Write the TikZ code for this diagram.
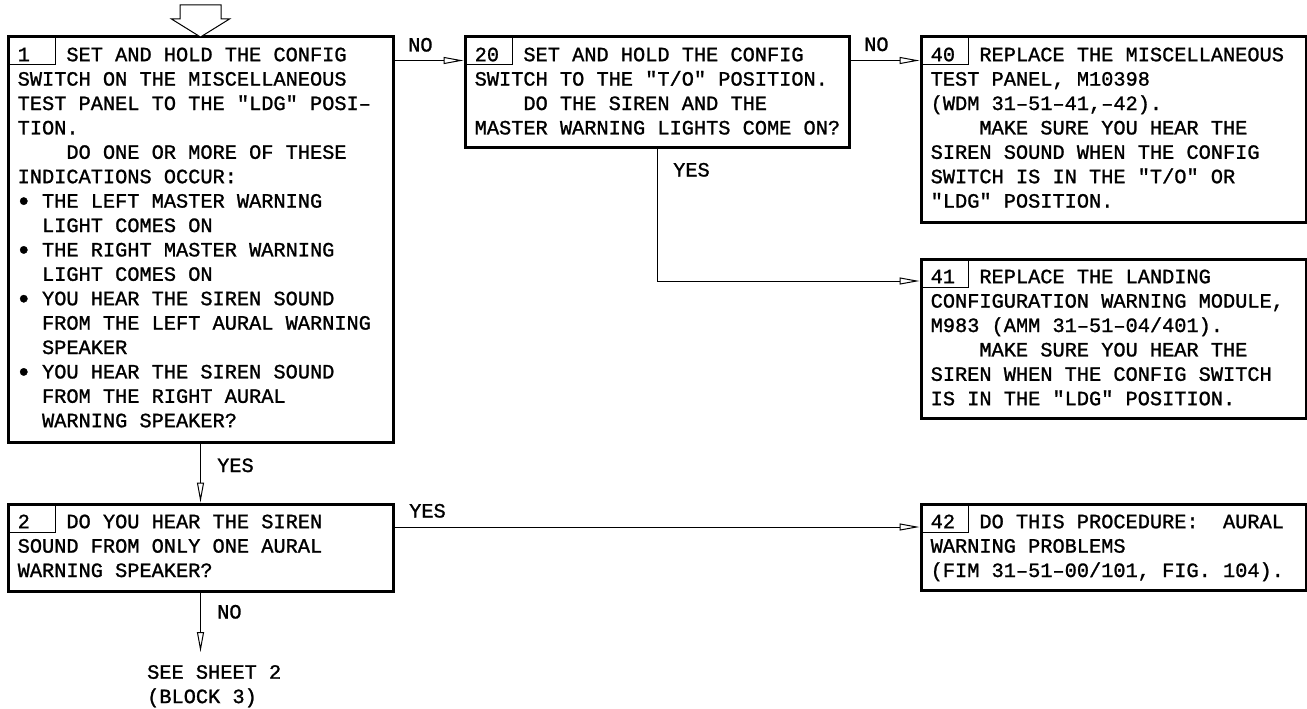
\documentclass[tikz,border=0pt]{standalone}
\usepackage{fontspec}
\usetikzlibrary{arrows.meta}
\newfontfamily\monof[FakeBold=1.2]{Liberation Mono}
\tikzset{
  mytxt/.style={font=\monof\fontsize{20.3pt}{24.4pt}\selectfont\frenchspacing},
  framebox/.style={draw, line width=3pt, rectangle, inner sep=0pt},
  numbox/.style={draw, line width=0.9pt, rectangle, inner sep=0pt, minimum width=48pt, minimum height=29pt, anchor=north west},
  btext/.style={mytxt, align=left, inner sep=0pt, anchor=north west},
  lbl/.style={mytxt, inner sep=0pt, anchor=base west},
  conn/.style={line width=1pt, -{Triangle[open, length=20pt, width=7pt]}}
}
\newcommand{\fl}{\rule{0pt}{20pt}}
\newcommand{\bul}{\makebox[12.18pt][c]{\raisebox{-2.6pt}{\scalebox{1.35}{•}}}}
\begin{document}
\begin{tikzpicture}[x=1pt, y=-1pt]
\useasboundingbox (0,0) rectangle (1307,709);
\fill[white] (0,0) rectangle (1307,709);

% boxes
\node[framebox, minimum width=385pt, minimum height=405pt] (b1) at (200.5,239.5) {};
\node[framebox, minimum width=384pt, minimum height=110pt] (b20) at (657,92) {};
\node[framebox, minimum width=385pt, minimum height=185pt] (b40) at (1113.5,129.5) {};
\node[framebox, minimum width=385pt, minimum height=159pt] (b41) at (1113.5,338.5) {};
\node[framebox, minimum width=385pt, minimum height=87pt] (b2) at (200.5,547.5) {};
\node[framebox, minimum width=385pt, minimum height=86pt] (b42) at (1113.5,547) {};

% number boxes
\node[numbox] (n1) at (b1.north west) {};
\node[numbox] (n20) at (b20.north west) {};
\node[numbox] (n40) at (b40.north west) {};
\node[numbox] (n41) at (b41.north west) {};
\node[numbox] (n2) at (b2.north west) {};
\node[numbox] (n42) at (b42.north west) {};

% texts
\node[btext] (t1) at ([xshift=11pt,yshift=-5.5pt]b1.north west) {\fl 1\phantom{XXX}SET AND HOLD THE CONFIG\\
SWITCH ON THE MISCELLANEOUS\\
TEST PANEL TO THE "LDG" POSI–\\
TION.\\
\phantom{XXXX}DO ONE OR MORE OF THESE\\
INDICATIONS OCCUR:\\
\bul\ THE LEFT MASTER WARNING\\
\phantom{XX}LIGHT COMES ON\\
\bul\ THE RIGHT MASTER WARNING\\
\phantom{XX}LIGHT COMES ON\\
\bul\ YOU HEAR THE SIREN SOUND\\
\phantom{XX}FROM THE LEFT AURAL WARNING\\
\phantom{XX}SPEAKER\\
\bul\ YOU HEAR THE SIREN SOUND\\
\phantom{XX}FROM THE RIGHT AURAL\\
\phantom{XX}WARNING SPEAKER?};

\node[btext] (t20) at ([xshift=11pt,yshift=-5.5pt]b20.north west) {\fl 20\phantom{XX}SET AND HOLD THE CONFIG\\
SWITCH TO THE "T/O" POSITION.\\
\phantom{XXXX}DO THE SIREN AND THE\\
MASTER WARNING LIGHTS COME ON?};

\node[btext] (t40) at ([xshift=11pt,yshift=-5.5pt]b40.north west) {\fl 40\phantom{XX}REPLACE THE MISCELLANEOUS\\
TEST PANEL, M10398\\
(WDM 31–51–41,–42).\\
\phantom{XXXX}MAKE SURE YOU HEAR THE\\
SIREN SOUND WHEN THE CONFIG\\
SWITCH IS IN THE "T/O" OR\\
"LDG" POSITION.};

\node[btext] (t41) at ([xshift=11pt,yshift=-5.5pt]b41.north west) {\fl 41\phantom{XX}REPLACE THE LANDING\\
CONFIGURATION WARNING MODULE,\\
M983 (AMM 31–51–04/401).\\
\phantom{XXXX}MAKE SURE YOU HEAR THE\\
SIREN WHEN THE CONFIG SWITCH\\
IS IN THE "LDG" POSITION.};

\node[btext] (t2) at ([xshift=11pt,yshift=-5.5pt]b2.north west) {\fl 2\phantom{XXX}DO YOU HEAR THE SIREN\\
SOUND FROM ONLY ONE AURAL\\
WARNING SPEAKER?};

\node[btext] (t42) at ([xshift=11pt,yshift=-5.5pt]b42.north west) {\fl 42\phantom{XX}DO THIS PROCEDURE:~~AURAL\\
WARNING PROBLEMS\\
(FIM 31–51–00/101, FIG. 104).};

\node[btext] (see) at (147,658.5) {\fl SEE SHEET 2\\(BLOCK 3)};
\coordinate (seeend) at (200.5,652);

% entry block arrow
\draw[line width=1pt, fill=white] (180,5) -- (221,5) -- (221,19) -- (229.5,19) -- (200.5,37) -- (171.5,19) -- (180,19) -- cycle;

% connectors
\draw[conn] ([yshift=-25pt]b1.north east) -- ([yshift=-25pt]b20.north west);
\draw[conn] ([yshift=-25pt]b20.north east) -- ([yshift=-25pt]b40.north west);
\draw[conn] (b20.south) |- ([yshift=-23.5pt]b41.north west);
\draw[conn] (b1.south) -- (b2.north);
\draw[conn] ([yshift=-24.5pt]b2.north east) -- ([yshift=-24.5pt]b42.north west);
\draw[conn] (b2.south) -- (seeend);

% labels
\node[lbl] (lno1) at (408,51.5) {NO};
\node[lbl] (lno2) at (864,51) {NO};
\node[lbl] (lyes20) at (673,176.5) {YES};
\node[lbl] (lyes1) at (217,472) {YES};
\node[lbl] (lyes2) at (409,517.5) {YES};
\node[lbl] (lno3) at (217,618.5) {NO};
\end{tikzpicture}
\end{document}
